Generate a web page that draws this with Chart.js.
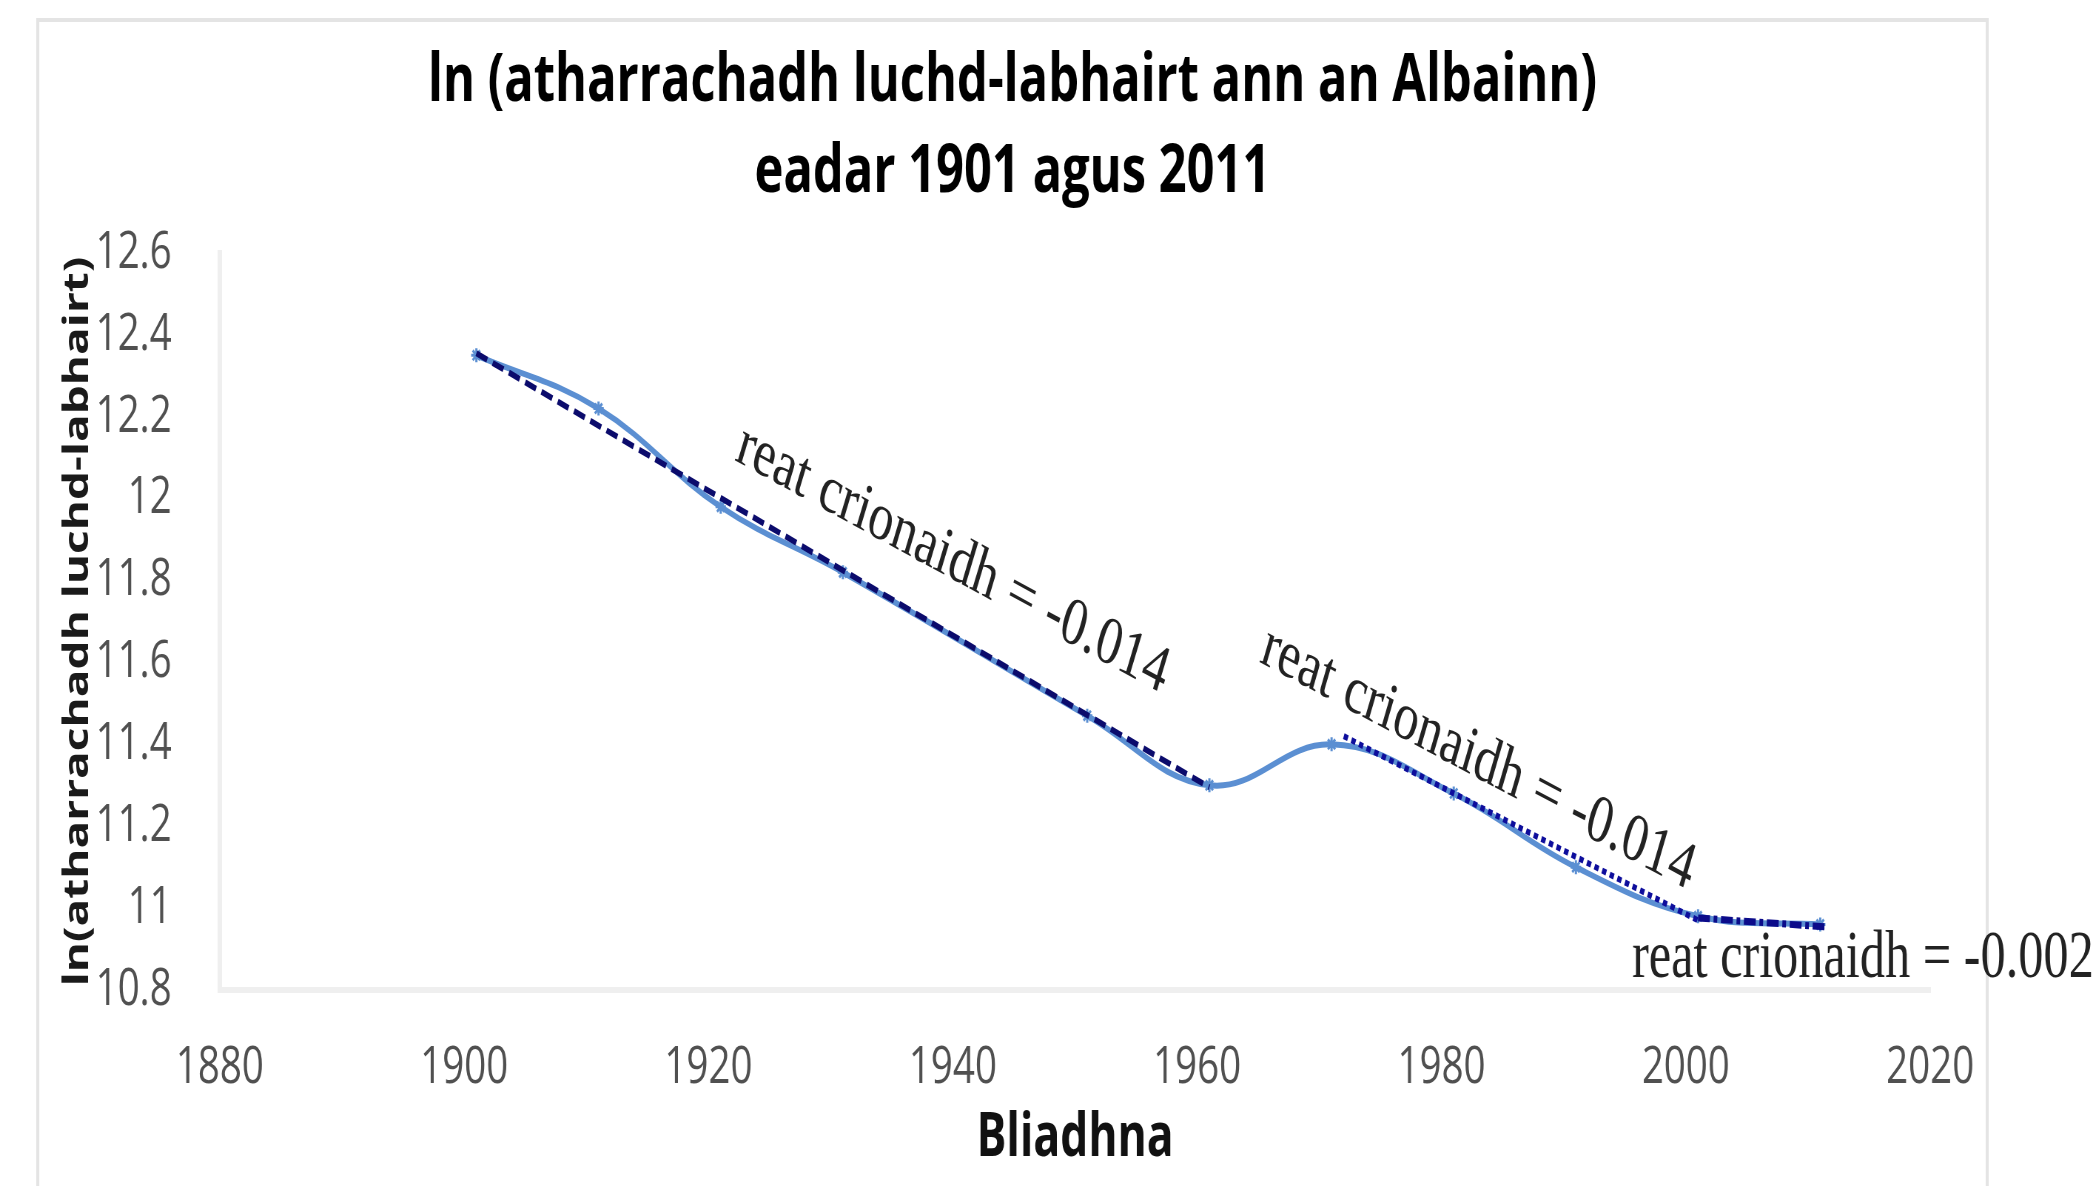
<!DOCTYPE html>
<html>
<head>
<meta charset="utf-8">
<script src="https://cdn.jsdelivr.net/npm/chart.js@4.4.1/dist/chart.umd.min.js"></script>
<style>
  html, body { margin: 0; padding: 0; background: #fff; overflow: hidden; }
  /* the source picture is squeezed sideways, so the canvas is drawn wide and narrowed */
  #wrap { width: 2836px; height: 1186px; transform: scaleX(0.7401); transform-origin: 0 0; }
</style>
</head>
<body>
<div id="wrap"><canvas id="chart" width="2836" height="1186"></canvas></div>
<script>
const titleLines = ["ln (atharrachadh luchd-labhairt ann an Albainn)", "eadar 1901 agus 2011"];
const yAxisTitle = "ln(atharrachadh luchd-labhairt)";
const xAxisTitle = "Bliadhna";

const years = [1901, 1911, 1921, 1931, 1951, 1961, 1971, 1981, 1991, 2001, 2011];
const lnSpeakers = [12.35, 12.22, 11.98, 11.82, 11.47, 11.30, 11.40, 11.28, 11.10, 10.98, 10.96];

// fitted decline lines, start and end
const fitYearsA = [1901, 1961];
const fitValuesA = [12.355, 11.295];
const fitYearsB = [1972, 2001];
const fitValuesB = [11.42, 10.97];
const fitYearsC = [2001, 2011.5];
const fitValuesC = [10.976, 10.954];

const rateLabels = ["reat crionaidh = -0.014", "reat crionaidh = -0.014", "reat crionaidh = -0.002"];

const xTickValues = [1880, 1900, 1920, 1940, 1960, 1980, 2000, 2020];
const yTickValues = [10.8, 11, 11.2, 11.4, 11.6, 11.8, 12, 12.2, 12.4, 12.6];

const toPoints = (xs, ys) => xs.map((x, i) => ({ x, y: ys[i] }));

// where each rate label sits, in data units
const notePlacement = [
  { x: 1940, y: 11.85, angle: 22, align: "center", baseline: "middle" },
  { x: 1983, y: 11.364, angle: 21.5, align: "center", baseline: "middle" },
  { x: 1995.6, y: 10.832, angle: 0, align: "left", baseline: "alphabetic" }
];

const frame = { left: 51, right: 2685, top: 20 };

const frameAndTitle = {
  id: "frameAndTitle",
  beforeDraw(chart) {
    const ctx = chart.ctx;
    ctx.save();
    ctx.fillStyle = "#fff";
    ctx.fillRect(0, 0, chart.width, chart.height);
    ctx.strokeStyle = "#e4e4e4";
    ctx.lineWidth = 4;
    ctx.strokeRect(frame.left, frame.top, frame.right - frame.left, chart.height + 40);
    ctx.fillStyle = "#000";
    ctx.font = 'bold 66px "Open Sans"';
    ctx.textAlign = "center";
    ctx.textBaseline = "alphabetic";
    const cx = (frame.left + frame.right) / 2;
    ctx.fillText(titleLines[0], cx, 101);
    ctx.fillText(titleLines[1], cx, 192);
    ctx.restore();
  }
};

const rateNotes = {
  id: "rateNotes",
  afterDatasetsDraw(chart) {
    const { ctx, scales: { x, y } } = chart;
    ctx.save();
    ctx.fillStyle = "#222";
    ctx.font = '68px "Liberation Serif"';
    notePlacement.forEach((p, i) => {
      ctx.save();
      ctx.translate(x.getPixelForValue(p.x), y.getPixelForValue(p.y));
      ctx.rotate(p.angle * Math.PI / 180);
      ctx.textAlign = p.align;
      ctx.textBaseline = p.baseline;
      ctx.fillText(rateLabels[i], 0, 0);
      ctx.restore();
    });
    ctx.restore();
  }
};

Chart.defaults.font.family = '"Open Sans", sans-serif';

new Chart(document.getElementById("chart"), {
  type: "line",
  data: {
    datasets: [
      { label: "ln", data: toPoints(years, lnSpeakers), borderColor: "#5b8fd2", backgroundColor: "#5b8fd2", borderWidth: 6, tension: 0.4, pointStyle: "star", pointRadius: 7, pointBorderWidth: 3, order: 2 },
      { label: "fitA", data: toPoints(fitYearsA, fitValuesA), borderColor: "#0b0b6c", borderWidth: 6, borderDash: [16, 8], pointRadius: 0, order: 1 },
      { label: "fitB", data: toPoints(fitYearsB, fitValuesB), borderColor: "#0d0d9c", borderWidth: 6, borderDash: [6, 5], pointRadius: 0, order: 1 },
      { label: "fitC", data: toPoints(fitYearsC, fitValuesC), borderColor: "#0b0b8a", borderWidth: 7, borderDash: [16, 5, 5, 5], pointRadius: 0, order: 1 }
    ]
  },
  options: {
    responsive: false,
    devicePixelRatio: 1,
    animation: false,
    layout: { padding: { left: 78, right: 228, top: 253, bottom: 0 } },
    plugins: { legend: { display: false }, tooltip: { enabled: false }, title: { display: false } },
    scales: {
      x: {
        type: "linear", min: 1880, max: 2020,
        afterBuildTicks: a => { a.ticks = xTickValues.map(v => ({ value: v })); },
        afterFit: a => { a.height = 196; },
        grid: { display: false },
        border: { color: "#efefef", width: 6 },
        ticks: { padding: 39, color: "#505050", font: { size: 52 }, maxRotation: 0, autoSkip: false, callback: v => String(v) },
        title: { display: true, text: xAxisTitle, color: "#111", font: { size: 60, weight: "bold" }, padding: { top: 0, bottom: 11 } }
      },
      y: {
        type: "linear", min: 10.8, max: 12.6,
        afterBuildTicks: a => { a.ticks = yTickValues.map(v => ({ value: v })); },
        afterFit: a => { a.width = 219; },
        grid: { display: false },
        border: { color: "#efefef", width: 6 },
        ticks: { padding: 57, color: "#505050", font: { size: 52 }, autoSkip: false, callback: v => String(+v.toFixed(1)) },
        title: { display: true, text: yAxisTitle, color: "#1a1a1a", font: { size: 46, weight: "bold" }, padding: { top: 0, bottom: 0 } }
      }
    }
  },
  plugins: [frameAndTitle, rateNotes]
});
</script>
</body>
</html>
